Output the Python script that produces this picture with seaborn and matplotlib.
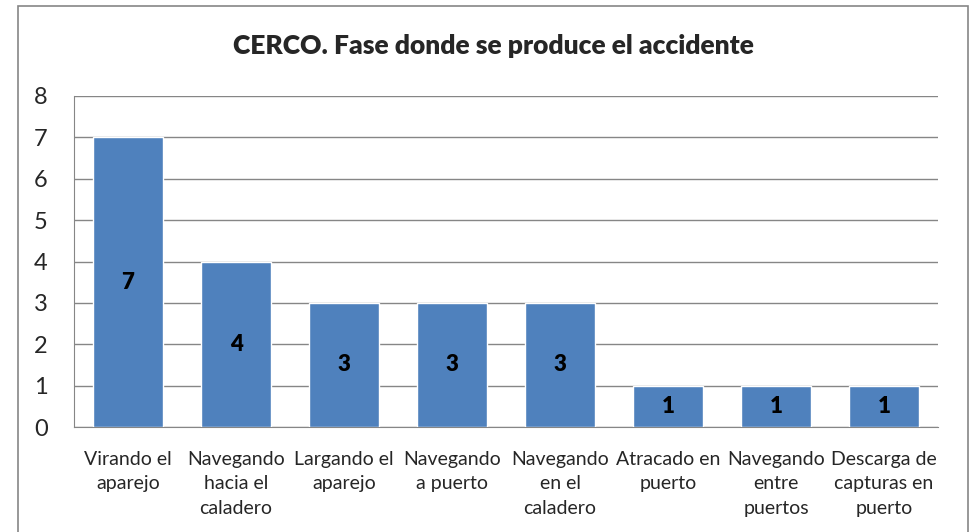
import pandas as pd
import seaborn as sns
import matplotlib.pyplot as plt
from matplotlib.patches import Rectangle

sns.set_style('white')
plt.rcParams['font.family'] = ['Lato', 'DejaVu Sans']

# datos
fases = ['Virando el\naparejo', 'Navegando\nhacia el\ncaladero', 'Largando el\naparejo',
         'Navegando\na puerto', 'Navegando\nen el\ncaladero', 'Atracado en\npuerto',
         'Navegando\nentre\npuertos', 'Descarga de\ncapturas en\npuerto']
accidentes = [7, 4, 3, 3, 3, 1, 1, 1]

df = pd.DataFrame({'fase': fases, 'n': accidentes})

fig = plt.figure(figsize=(9.75, 5.32), dpi=100)
ax = fig.add_axes([74/975, 105/532, (938-74)/975, (427-96)/532])

sns.barplot(data=df, x='fase', y='n', color='#4F81BD', saturation=1, width=0.64, ax=ax, zorder=3)

for i, v in enumerate(df['n']):
    ax.text(i, v/2, str(v), ha='center', va='center', fontsize=16, fontweight='heavy', color='black', zorder=4)

ax.set_ylim(0, 8)
ax.set_yticks(range(0, 9))
ax.set_xlim(-0.5, len(fases)-0.5)
ax.yaxis.grid(True, color='#868686', linewidth=1, zorder=0)
ax.set_xlabel('')
ax.set_ylabel('')
for s in ['top', 'right']:
    ax.spines[s].set_visible(False)
ax.spines['left'].set_color('#868686')
ax.spines['bottom'].set_color('#868686')
ax.tick_params(axis='y', labelsize=17, length=0, pad=19)
ax.tick_params(axis='x', labelsize=14, length=0, pad=17)
ax.set_xticks(range(len(fases)))
ax.set_xticklabels(fases, multialignment='center', linespacing=1.55)

fig.patches.append(Rectangle((18/975, -0.02), (968-18)/975, (532-6)/532 + 0.02,
                             transform=fig.transFigure, fill=False, edgecolor='#868686', linewidth=1.2))
fig.text(493/975, 1 - 46/532, 'CERCO. Fase donde se produce el accidente', ha='center', va='center',
         fontsize=19, fontweight='heavy')

plt.savefig('out.png', dpi=100)
